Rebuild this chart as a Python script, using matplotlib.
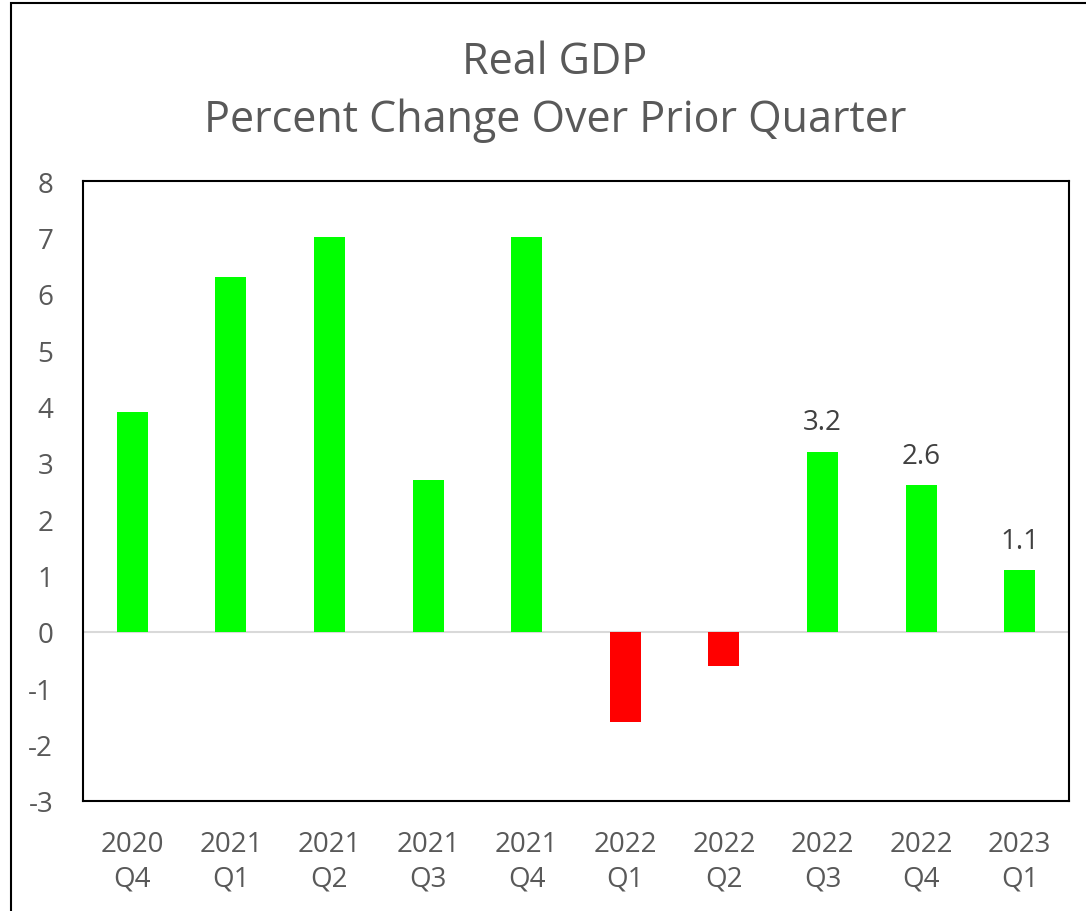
"""Real GDP, percent change over prior quarter (bar chart)."""

import matplotlib
matplotlib.use("Agg")
import matplotlib.pyplot as plt
from matplotlib.patches import Rectangle

# data
quarters = ["2020\nQ4", "2021\nQ1", "2021\nQ2", "2021\nQ3", "2021\nQ4",
            "2022\nQ1", "2022\nQ2", "2022\nQ3", "2022\nQ4", "2023\nQ1"]
gdp_change = [3.9, 6.3, 7.0, 2.7, 7.0, -1.6, -0.6, 3.2, 2.6, 1.1]
labelled = [7, 8, 9]  # only the last three bars carry a value label
y_ticks = list(range(-3, 9))

GREEN = "#00ff00"
RED = "#ff0000"
TEXT = "#595959"

plt.rcParams["font.family"] = ["Open Sans", "DejaVu Sans"]

fig = plt.figure(figsize=(10.86, 9.12), dpi=100)
ax = fig.add_axes([83 / 1086, 110 / 912, 986 / 1086, 620 / 912])

colors = [GREEN if v >= 0 else RED for v in gdp_change]
x = list(range(len(quarters)))
bars = ax.bar(x, gdp_change, width=0.315, color=colors, zorder=3)

for i in labelled:
    ax.annotate(f"{gdp_change[i]:.1f}", (x[i], gdp_change[i]),
                xytext=(0, 11), textcoords="offset points",
                ha="center", va="bottom", fontsize=20, color="#404040")

ax.axhline(0, color="#d9d9d9", lw=1.5, zorder=2)

ax.set_xlim(-0.5, len(quarters) - 0.5)
ax.set_ylim(-3, 8)
ax.set_yticks(y_ticks)
ax.set_yticklabels([str(t) for t in y_ticks])
ax.set_xticks(x)
ax.set_xticklabels(quarters, linespacing=1.3)
ax.tick_params(axis="both", length=0, labelsize=20, labelcolor=TEXT)
ax.tick_params(axis="y", pad=21.5)
ax.tick_params(axis="x", pad=21)
for s in ax.spines.values():
    s.set_color("black")
    s.set_linewidth(1.5)

# title, two lines
fig.text(555 / 1086, 1 - 63 / 912, "Real GDP", ha="center", va="center",
         fontsize=31, color=TEXT)
fig.text(555 / 1086, 1 - 121 / 912, "Percent Change Over Prior Quarter",
         ha="center", va="center", fontsize=31, color=TEXT)

# outer chart-area border (right and bottom run off the image)
fig.patches.append(Rectangle((10.5 / 1086, -0.1), 1.2, 1.1 - 3.5 / 912,
                             transform=fig.transFigure, fill=False,
                             edgecolor="black", lw=1.5))

fig.savefig("out.png", dpi=100)
